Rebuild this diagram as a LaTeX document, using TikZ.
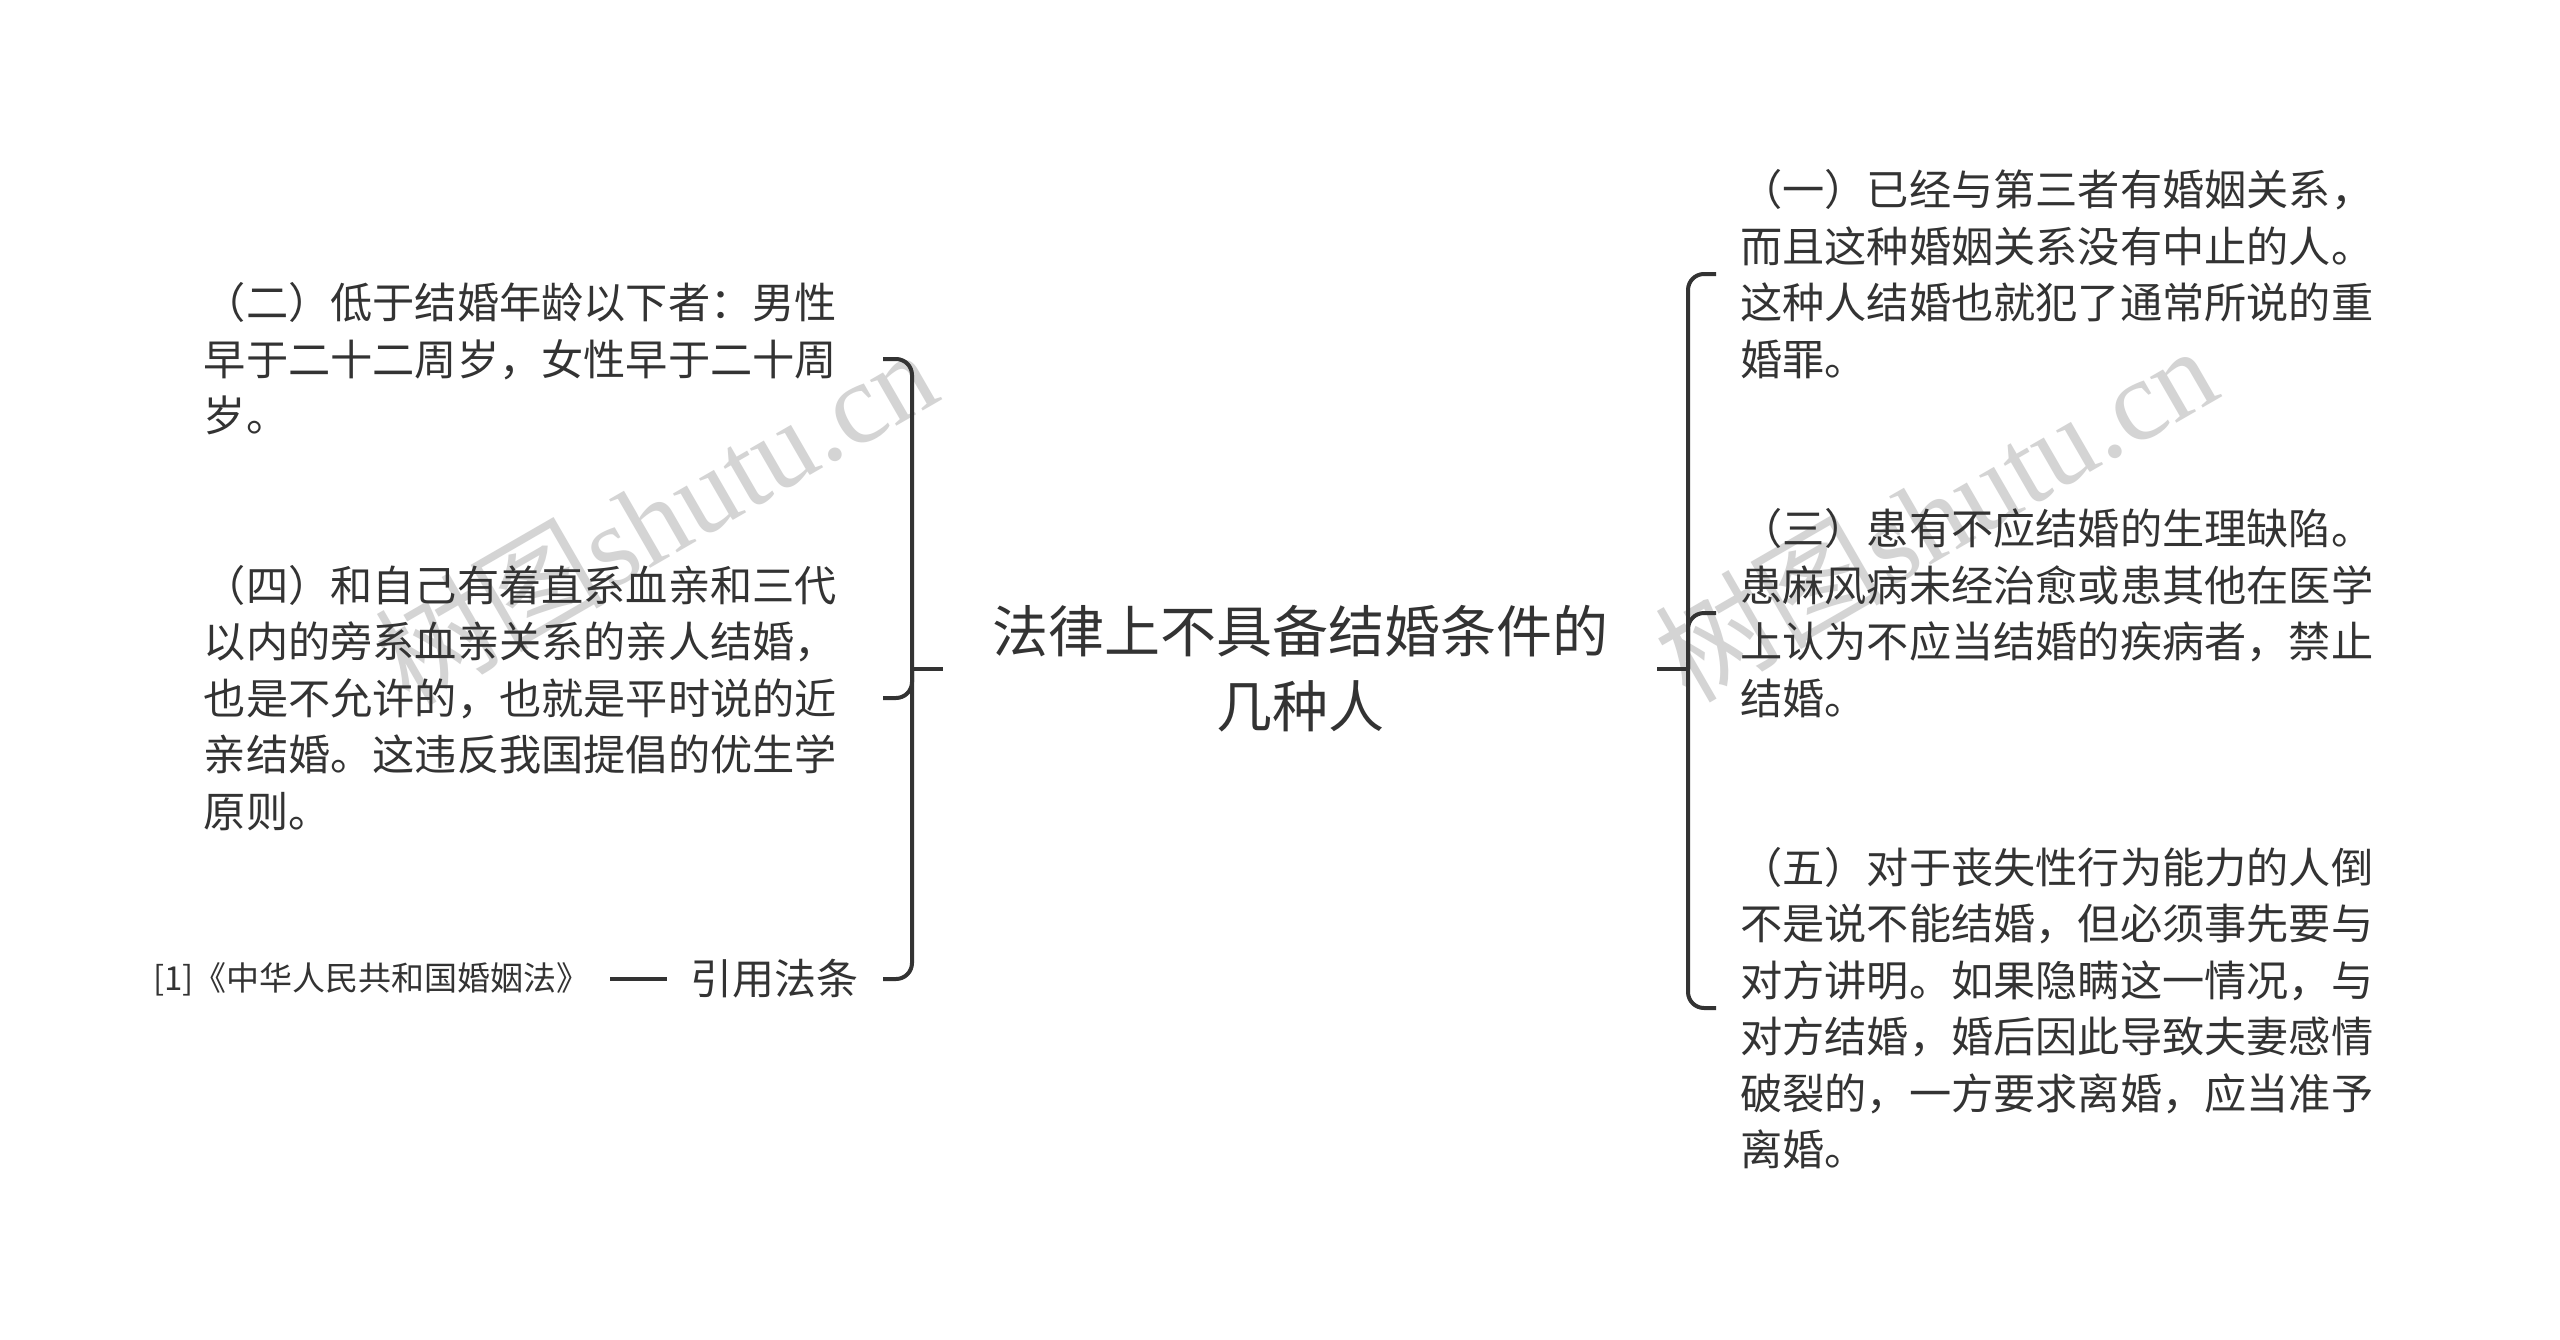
\documentclass[tikz,border=0pt]{standalone}
\usepackage{fontspec}
\newfontfamily\cjk{Noto Sans CJK SC}
\newfontfamily\wmserif{Liberation Serif}
\definecolor{ink}{HTML}{333333}
\definecolor{wm}{HTML}{D4D4D4}
\begin{document}
\begin{tikzpicture}[x=1pt,y=-1pt,
  conn/.style={draw=ink, line width=4pt, rounded corners=16pt},
  leaf/.style={font=\cjk\fontsize{42.2}{56.5}\selectfont, text=ink, align=left, text width=655pt, inner xsep=24pt, inner ysep=0pt},
  titlebox/.style={font=\cjk\fontsize{56}{75}\selectfont, text=ink, align=center, inner xsep=49pt, inner ysep=0pt},
  citebox/.style={font=\cjk\fontsize{42}{50}\selectfont, text=ink, inner xsep=24pt, inner ysep=0pt},
  refbox/.style={font=\cjk\fontsize{33}{40}\selectfont, text=ink, inner xsep=20pt, inner ysep=0pt},
  wmark/.style={text=wm, rotate=30, inner sep=0pt}]
\useasboundingbox[fill=white] (0,0) rectangle (2560,1339);

% watermarks
\node[wmark] (wmL) at (655,515) {{\cjk\fontsize{115}{120}\selectfont 树图}\,{\wmserif\fontsize{115}{120}\selectfont shutu.cn}};
\node[wmark] (wmR) at (1935,512) {{\cjk\fontsize{115}{120}\selectfont 树图}\,{\wmserif\fontsize{115}{120}\selectfont shutu.cn}};

% central topic
\node[titlebox] (title) at (1300,669) {法律上不具备结婚条件的\\几种人};

% left children
\node[leaf, anchor=east] (n2) at (883,359) {（二）低于结婚年龄以下者：男性\\早于二十二周岁，女性早于二十周\\岁。};
\node[leaf, anchor=east] (n4) at (883,698) {（四）和自己有着直系血亲和三代\\以内的旁系血亲关系的亲人结婚，\\也是不允许的，也就是平时说的近\\亲结婚。这违反我国提倡的优生学\\原则。};
\node[citebox, anchor=east] (cite) at (883,979) {引用法条};
\node[refbox, anchor=east] (ref) at (610,979) {[1]《中华人民共和国婚姻法》};

% right children
\node[leaf, anchor=west] (n1) at (1716,274) {（一）已经与第三者有婚姻关系，\\而且这种婚姻关系没有中止的人。\\这种人结婚也就犯了通常所说的重\\婚罪。};
\node[leaf, anchor=west] (n3) at (1716,613) {（三）患有不应结婚的生理缺陷。\\患麻风病未经治愈或患其他在医学\\上认为不应当结婚的疾病者，禁止\\结婚。};
\node[leaf, anchor=west] (n5) at (1716,1008) {（五）对于丧失性行为能力的人倒\\不是说不能结婚，但必须事先要与\\对方讲明。如果隐瞒这一情况，与\\对方结婚，婚后因此导致夫妻感情\\破裂的，一方要求离婚，应当准予\\离婚。};

% junctions
\coordinate (lj) at (912,669);
\coordinate (rj) at (1688,669);

% connectors
\draw[conn] (title.west) -- (lj);
\draw[conn] (lj) |- (n2.east);
\draw[conn] (lj) |- (n4.east);
\draw[conn] (lj) |- (cite.east);
\draw[conn] (cite.west) -- (ref.east);
\draw[conn] (title.east) -- (rj);
\draw[conn] (rj) |- (n1.west);
\draw[conn] (rj) |- (n3.west);
\draw[conn] (rj) |- (n5.west);
\end{tikzpicture}
\end{document}
